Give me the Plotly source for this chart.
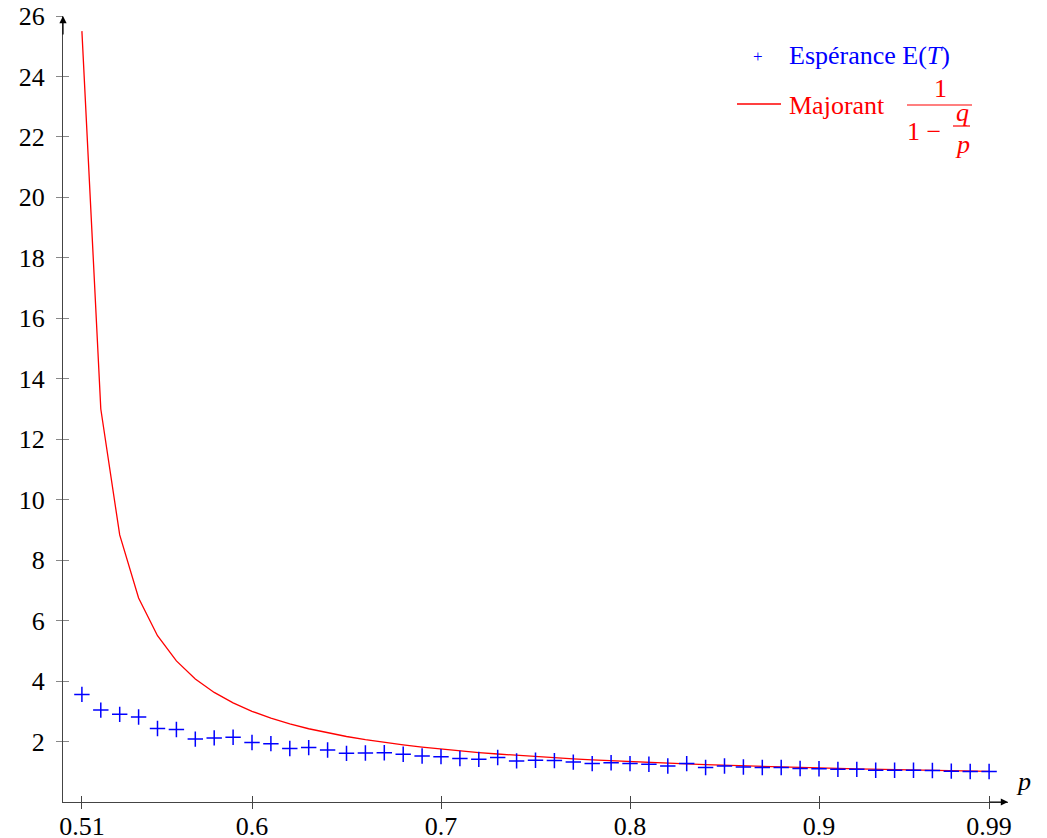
import plotly.graph_objects as go

# ---- data ----
p_values = [0.51, 0.52, 0.53, 0.54, 0.55, 0.56, 0.57, 0.58, 0.59, 0.60,
            0.61, 0.62, 0.63, 0.64, 0.65, 0.66, 0.67, 0.68, 0.69, 0.70,
            0.71, 0.72, 0.73, 0.74, 0.75, 0.76, 0.77, 0.78, 0.79, 0.80,
            0.81, 0.82, 0.83, 0.84, 0.85, 0.86, 0.87, 0.88, 0.89, 0.90,
            0.91, 0.92, 0.93, 0.94, 0.95, 0.96, 0.97, 0.98, 0.99]

esperance = [3.56, 3.04, 2.90, 2.81, 2.43, 2.40, 2.08, 2.12, 2.14, 1.97,
             1.93, 1.77, 1.80, 1.72, 1.61, 1.62, 1.63, 1.58, 1.52, 1.50,
             1.44, 1.41, 1.47, 1.36, 1.38, 1.37, 1.32, 1.27, 1.30, 1.27,
             1.25, 1.19, 1.27, 1.14, 1.19, 1.16, 1.14, 1.14, 1.11, 1.10,
             1.08, 1.08, 1.05, 1.05, 1.05, 1.04, 1.02, 1.01, 1.01]

majorant = [25.5, 13.0, 8.833, 6.75, 5.5, 4.667, 4.071, 3.625, 3.278, 3.0,
            2.773, 2.583, 2.423, 2.286, 2.167, 2.063, 1.971, 1.889, 1.816, 1.75,
            1.690, 1.636, 1.587, 1.542, 1.5, 1.462, 1.426, 1.393, 1.362, 1.333,
            1.306, 1.281, 1.258, 1.235, 1.214, 1.194, 1.176, 1.158, 1.141, 1.125,
            1.110, 1.095, 1.081, 1.068, 1.056, 1.043, 1.032, 1.021, 1.010]

x_ticks = [0.51, 0.6, 0.7, 0.8, 0.9, 0.99]
x_tick_labels = ["0.51", "0.6", "0.7", "0.8", "0.9", "0.99"]
y_ticks = [2, 4, 6, 8, 10, 12, 14, 16, 18, 20, 22, 24, 26]
y_tick_labels = [str(v) for v in y_ticks]

FONT = "'Liberation Serif', 'DejaVu Serif', serif"
FS = 26      # tick labels
LFS = 26     # legend text
AX = "#444444"
TK = "#888888"

# the page body adds an 8px offset; figure is sized to fill the rest of the window
OFF = 8
W, H = 1047 - OFF, 838 - OFF

fig = go.Figure()
fig.add_trace(go.Scatter(x=p_values, y=majorant, mode="lines",
                         line=dict(color="#ff0000", width=1.3),
                         showlegend=False, hoverinfo="skip"))
fig.add_trace(go.Scatter(x=p_values, y=esperance, mode="markers",
                         marker=dict(symbol="cross-thin", size=11,
                                     line=dict(color="#0000ff", width=1.5)),
                         showlegend=False, hoverinfo="skip"))
# invisible trace for overlay axes (used to draw the other half of the ticks)
fig.add_trace(go.Scatter(x=[p_values[0]], y=[esperance[0]], xaxis="x2", yaxis="y2",
                         mode="markers", marker=dict(opacity=0),
                         showlegend=False, hoverinfo="skip"))

common = dict(showgrid=False, zeroline=False, ticklen=6, tickwidth=1,
              automargin=False, ticklabeloverflow="allow")
fig.update_layout(
    width=W, height=H,
    margin=dict(l=63 - OFF, r=39, t=16 - OFF, b=36, autoexpand=False),
    paper_bgcolor="white", plot_bgcolor="white",
    font=dict(family=FONT, size=FS, color="black"),
    xaxis=dict(range=[0.5, 1.0], tickvals=x_ticks, ticktext=x_tick_labels,
               ticks="inside", tickcolor=AX, showline=True, linecolor=AX,
               linewidth=1.2, ticklabelstandoff=1, **common),
    yaxis=dict(range=[0, 26], tickvals=y_ticks, ticktext=y_tick_labels,
               ticks="outside", tickcolor=TK, showline=True, linecolor=AX,
               linewidth=1.2, ticklabelstandoff=6, **common),
    xaxis2=dict(range=[0.5, 1.0], overlaying="x", anchor="y", side="bottom",
                tickvals=x_ticks, ticks="outside", tickcolor=AX,
                showticklabels=False, showline=False, **common),
    yaxis2=dict(range=[0, 26], overlaying="y", anchor="x", side="left",
                tickvals=y_ticks, ticks="inside", tickcolor=TK,
                showticklabels=False, showline=False, **common),
)

# axis arrows
fig.add_annotation(x=1.0, y=0, xref="x", yref="y", ax=-20, ay=0,
                   showarrow=True, arrowhead=2, arrowsize=1.2, arrowwidth=1.2,
                   arrowcolor="black", text="")
fig.add_annotation(x=0.5, y=26, xref="x", yref="y", ax=0, ay=20,
                   showarrow=True, arrowhead=2, arrowsize=1.2, arrowwidth=1.2,
                   arrowcolor="black", text="")

# ---- helpers: window pixel -> paper coordinates ----
def px(xw):
    return (xw - 63) / 945

def py(yw):
    return (802 - yw) / 786

# axis label
fig.add_annotation(x=px(1014), y=py(781), xref="paper", yref="paper", text="<i>p</i>",
                   showarrow=False, font=dict(size=LFS), xanchor="left", yanchor="middle")

# ---- custom legend ----
BLUE = "#0000ff"
RED = "#ff0000"
fig.add_annotation(x=px(758), y=py(56), xref="paper", yref="paper", text="+",
                   showarrow=False, font=dict(size=17, color=BLUE),
                   xanchor="center", yanchor="middle")
fig.add_annotation(x=px(787), y=py(55), xref="paper", yref="paper",
                   text="Espérance E(<i>T</i>)", showarrow=False,
                   font=dict(size=LFS, color=BLUE), xanchor="left", yanchor="middle")
fig.add_shape(type="line", xref="paper", yref="paper",
              x0=px(737), x1=px(781), y0=py(104), y1=py(104),
              line=dict(color=RED, width=1.3))
fig.add_annotation(x=px(787), y=py(106), xref="paper", yref="paper",
                   text="Majorant", showarrow=False,
                   font=dict(size=LFS, color=RED), xanchor="left", yanchor="middle")
# fraction 1 / (1 - q/p)
fig.add_annotation(x=px(940), y=py(88), xref="paper", yref="paper", text="1",
                   showarrow=False, font=dict(size=LFS, color=RED),
                   xanchor="center", yanchor="middle")
fig.add_shape(type="line", xref="paper", yref="paper",
              x0=px(907), x1=px(972), y0=py(105), y1=py(105),
              line=dict(color=RED, width=1.2))
fig.add_annotation(x=px(905), y=py(131), xref="paper", yref="paper", text="1 −",
                   showarrow=False, font=dict(size=LFS, color=RED),
                   xanchor="left", yanchor="middle")
fig.add_annotation(x=px(962), y=py(113), xref="paper", yref="paper", text="<i>q</i>",
                   showarrow=False, font=dict(size=LFS, color=RED),
                   xanchor="center", yanchor="middle")
fig.add_shape(type="line", xref="paper", yref="paper",
              x0=px(953), x1=px(970), y0=py(126), y1=py(126),
              line=dict(color=RED, width=1.2))
fig.add_annotation(x=px(962), y=py(144), xref="paper", yref="paper", text="<i>p</i>",
                   showarrow=False, font=dict(size=LFS, color=RED),
                   xanchor="center", yanchor="middle")

fig.write_html("out.html")
